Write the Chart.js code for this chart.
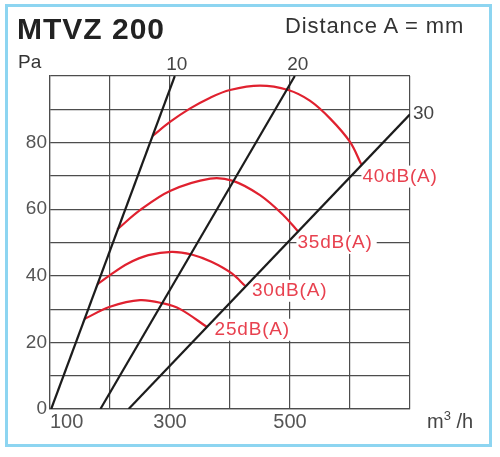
<!DOCTYPE html>
<html>
<head>
<meta charset="utf-8">
<script src="https://cdn.jsdelivr.net/npm/chart.js@4"></script>
<style>
  body { margin: 0; background: #fff; }
  #wrap { position: relative; width: 500px; height: 457px; overflow: hidden; font-family: "Liberation Sans", Arial, sans-serif; }
  #frame { position: absolute; left: 5px; top: 4px; width: 481px; height: 437px; border: 3px solid #8dd5f1; }
  canvas { position: absolute; left: 0; top: 0; }
  .t { position: absolute; white-space: nowrap; line-height: 1; }
  #title { left: 17px; top: 14px; font-size: 30px; font-weight: bold; color: #222; letter-spacing: 1px; }
  #dist { left: 285px; top: 15px; font-size: 22px; color: #333; letter-spacing: 0.9px; }
  #pa { left: 18px; top: 52px; font-size: 19px; color: #333; }
  #unit { left: 427px; top: 411px; font-size: 20px; color: #444; }
  #unit sup { font-size: 13px; vertical-align: 8px; line-height: 0; }
</style>
</head>
<body>
<div id="wrap">
  <div id="frame"></div>
  <canvas id="chart" width="500" height="457"></canvas>
  <div class="t" id="title">MTVZ 200</div>
  <div class="t" id="dist">Distance A = mm</div>
  <div class="t" id="pa">Pa</div>
  <div class="t" id="unit">m<sup>3</sup> /h</div>
</div>
<script>
// distance lines (m3/h vs Pa)
const line10Flow = [102, 308];
const line10Pa = [0, 100];
const line20Flow = [184, 508];
const line20Pa = [0, 100];
const line30Flow = [231, 700];
const line30Pa = [0, 88.5];
const lineNames = ['10', '20', '30'];

// sound level curves
const db25Flow = [157, 200, 250, 289, 317, 361];
const db25Pa = [27.0, 30.7, 32.7, 31.7, 30.0, 24.7];
const db30Flow = [179, 200, 230, 264, 303, 336, 369, 403, 425];
const db30Pa = [37.4, 40.2, 43.7, 46.2, 47.2, 46.4, 44.2, 40.7, 37.0];
const db35Flow = [212, 250, 300, 367, 405, 450, 489, 514];
const db35Pa = [53.9, 59.7, 65.5, 69.2, 68.5, 64.2, 58.2, 53.2];
const db40Flow = [271, 300, 333, 367, 400, 450, 497, 533, 567, 600, 619];
const db40Pa = [82.0, 86.2, 90.2, 93.5, 95.8, 97.1, 95.8, 92.6, 87.2, 80.2, 73.4];
const dbNames = ['25dB(A)', '30dB(A)', '35dB(A)', '40dB(A)'];

const xTickLabels = [100, 300, 500];
const yTickLabels = [0, 20, 40, 60, 80];

const toPoints = (xs, ys) => xs.map((x, i) => ({ x: x, y: ys[i] }));

const blackLine = (xs, ys) => ({
  data: toPoints(xs, ys),
  showLine: true,
  borderColor: '#1c1c1c',
  borderWidth: 2.2,
  pointRadius: 0,
});
const redCurve = (xs, ys) => ({
  data: toPoints(xs, ys),
  showLine: true,
  borderColor: '#e0212f',
  borderWidth: 2.2,
  pointRadius: 0,
  tension: 0.35,
});

const lineSets = [blackLine(line10Flow, line10Pa), blackLine(line20Flow, line20Pa), blackLine(line30Flow, line30Pa)];
const dbSets = [redCurve(db25Flow, db25Pa), redCurve(db30Flow, db30Pa), redCurve(db35Flow, db35Pa), redCurve(db40Flow, db40Pa)];

// offsets of the labels from the end of their curve, px
const dbOffsets = [[8, 3], [7, 5], [-1, 11], [1, 12]];
const lineOffsets = [[2, -11, 'center'], [3, -11, 'center'], [3, -1, 'left']];

const endPixel = (chart, ds) => {
  const p = ds.data[ds.data.length - 1];
  return [chart.scales.x.getPixelForValue(p.x), chart.scales.y.getPixelForValue(p.y)];
};

const labelPlugin = {
  id: 'curveLabels',
  beforeDatasetsDraw(chart) {
    // white boxes behind the dB labels hide the grid
    const ctx = chart.ctx;
    ctx.save();
    ctx.font = '19px "Liberation Sans", Arial, sans-serif';
    ctx.letterSpacing = '0.8px';
    dbSets.forEach((ds, i) => {
      const [ex, ey] = endPixel(chart, ds);
      const x = ex + dbOffsets[i][0];
      const y = ey + dbOffsets[i][1];
      const w = ctx.measureText(dbNames[i]).width;
      ctx.fillStyle = '#fff';
      ctx.fillRect(x - 1, y - 11, w + 5, 22);
    });
    ctx.restore();
  },
  afterDatasetsDraw(chart) {
    const ctx = chart.ctx;
    ctx.save();
    ctx.textBaseline = 'middle';
    ctx.font = '19px "Liberation Sans", Arial, sans-serif';
    ctx.letterSpacing = '0.8px';
    ctx.fillStyle = '#e8414f';
    ctx.textAlign = 'left';
    dbSets.forEach((ds, i) => {
      const [ex, ey] = endPixel(chart, ds);
      ctx.fillText(dbNames[i], ex + dbOffsets[i][0], ey + dbOffsets[i][1]);
    });
    ctx.letterSpacing = '0px';
    ctx.fillStyle = '#444';
    lineSets.forEach((ds, i) => {
      const [ex, ey] = endPixel(chart, ds);
      ctx.textAlign = lineOffsets[i][2];
      ctx.fillText(lineNames[i], ex + lineOffsets[i][0], ey + lineOffsets[i][1]);
    });
    ctx.restore();
  }
};

const ctx = document.getElementById('chart').getContext('2d');
new Chart(ctx, {
  type: 'scatter',
  data: { datasets: [...lineSets, ...dbSets] },
  options: {
    responsive: false,
    animation: false,
    layout: { padding: { left: 0, right: 90, top: 76, bottom: 0 } },
    plugins: { legend: { display: false }, tooltip: { enabled: false } },
    scales: {
      x: {
        type: 'linear',
        min: 100,
        max: 700,
        afterFit: (s) => { s.height = 48; },
        grid: { color: '#4d4d4d', lineWidth: 1.2, drawTicks: false },
        border: { color: '#4d4d4d', width: 1.2 },
        ticks: {
          stepSize: 100,
          autoSkip: false,
          maxRotation: 0,
          align: 'inner',
          padding: 1,
          color: '#555',
          font: { family: '"Liberation Sans", Arial, sans-serif', size: 20 },
          callback: (v) => (xTickLabels.includes(v) ? String(v) : ''),
        },
      },
      y: {
        min: 0,
        max: 100,
        afterFit: (s) => { s.width = 50; },
        grid: { color: '#4d4d4d', lineWidth: 1.2, drawTicks: false },
        border: { color: '#4d4d4d', width: 1.2 },
        ticks: {
          stepSize: 10,
          autoSkip: false,
          padding: 3,
          color: '#555',
          font: { family: '"Liberation Sans", Arial, sans-serif', size: 19 },
          callback: (v) => (yTickLabels.includes(v) ? String(v) : ''),
        },
      },
    },
  },
  plugins: [labelPlugin],
});
</script>
</body>
</html>
